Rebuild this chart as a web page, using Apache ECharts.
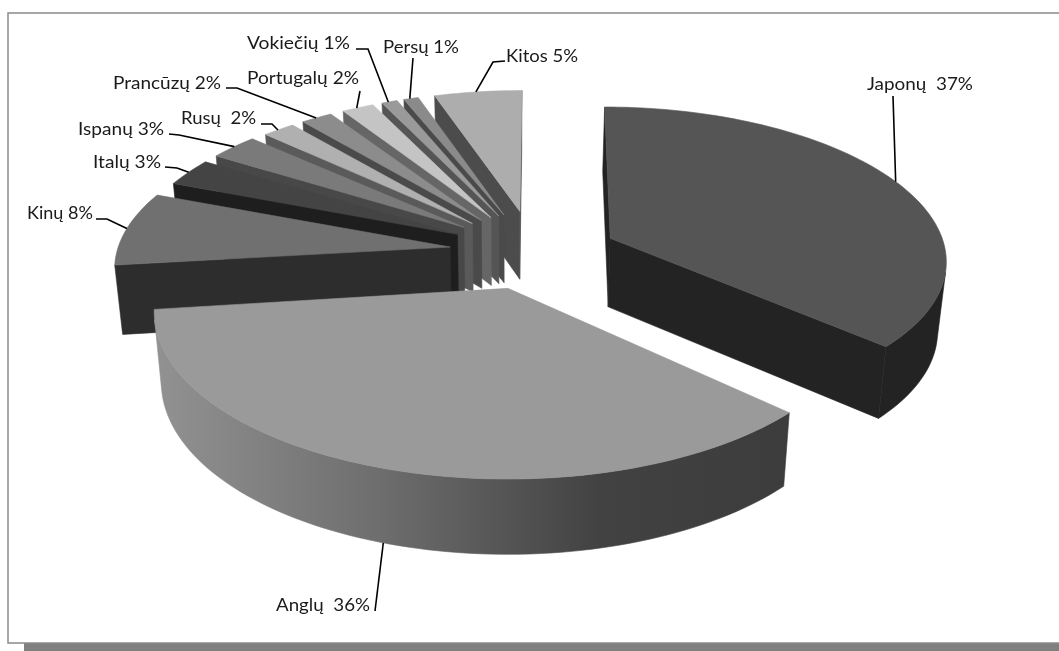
<!DOCTYPE html>
<html>
<head>
<meta charset="utf-8">
<style>html,body{margin:0;padding:0;background:#fff}#c{width:1059px;height:651px}</style>
<script src="https://cdn.jsdelivr.net/npm/echarts@6/dist/echarts.min.js"></script>
</head>
<body>
<div id="c"></div>
<script>
// Kalbų dalys (%)
const languages = ['Japonų','Anglų','Kinų','Italų','Ispanų','Rusų','Prancūzų','Portugalų','Vokiečių','Persų','Kitos'];
const shares = [37,36,8,3,3,2,2,2,1,1,5];
const labelTexts = ['Japonų  37%','Anglų  36%','Kinų 8%','Italų 3%','Ispanų 3%','Rusų  2%','Prancūzų 2%','Portugalų 2%','Vokiečių 1%','Persų 1%','Kitos 5%'];
const topColors = ['#555555','#9a9a9a','#707070','#444444','#7a7a7a','#b0b0b0','#8c8c8c','#c4c4c4','#9a9a9a','#8a8a8a','#adadad'];
const sideColors = ['#232323','#3d3d3d','#2d2d2d','#1e1e1e','#484848','#5a5a5a','#4a4a4a','#666666','#555555','#4a4a4a','#4c4c4c'];

// Camera of the tilted pie: perspective projection onto the page
const cam = {x0:510, y0:288, s:351, a:165, p:0.136, h:70, taper:0.98};
const pieCentre = {X:0.075, Y:-0.207};
const explode = 0.22;

// Per-slice offset of the exploded wedge: rim centre shift, rim radius,
// how far the tip sits along the bisector, and the gap trimmed off each edge (degrees)
const wedgeFit = [
  {dX:0.040,  dY:-0.028, r:0.967, pull:-0.021, trim:[0,0]},
  {dX:-0.013, dY:0,      r:0.998, pull:0,      trim:[0,0]},
  {dX:-0.063, dY:-0.026, r:0.949, pull:-0.03,  trim:[0,0]},
  {dX:0,      dY:-0.015, r:1,     pull:0.04,   trim:[0.2,0.3]},
  {dX:0,      dY:-0.015, r:1,     pull:0.05,   trim:[0.4,0.8]},
  {dX:0,      dY:-0.005, r:1,     pull:0.055,  trim:[0.6,0.2]},
  {dX:0,      dY:-0.005, r:1,     pull:0.055,  trim:[0.6,0.4]},
  {dX:0,      dY:-0.005, r:1,     pull:0.055,  trim:[0.7,0.2]},
  {dX:0,      dY:-0.005, r:1,     pull:0.055,  trim:[0.5,0]},
  {dX:0,      dY:-0.005, r:1,     pull:0.055,  trim:[0.6,0.1]},
  {dX:0,      dY:-0.005, r:1,     pull:0.067,  trim:[0.8,0]}
];

function project(X, Y, low) {
  const w = 1 - cam.p * Y;
  let x = cam.s * X / w;
  let y = cam.y0 + cam.a * Y / w;
  if (low) { x *= cam.taper; y += cam.h / Math.sqrt(w); }
  return [cam.x0 + x, y];
}

const total = shares.reduce((a, b) => a + b, 0);
const spans = [];
shares.reduce((acc, v) => { const next = acc + v / total * 360; spans.push([acc, next]); return next; }, 0);

function bisector(i) {
  const mid = (spans[i][0] + spans[i][1]) / 2 * Math.PI / 180;
  return [Math.sin(mid), -Math.cos(mid)];
}
function rimCentre(i) {
  const d = bisector(i), f = wedgeFit[i];
  return [pieCentre.X + explode * d[0] + f.dX, pieCentre.Y + explode * d[1] + f.dY];
}
function rimPoint(i, deg, low) {
  const c = rimCentre(i), t = deg * Math.PI / 180, r = wedgeFit[i].r;
  return project(c[0] + r * Math.sin(t), c[1] - r * Math.cos(t), low);
}
function shoelace(pts) {
  let sum = 0;
  pts.forEach((p, j) => { const q = pts[(j + 1) % pts.length]; sum += p[0] * q[1] - q[0] * p[1]; });
  return sum;
}

const anglesShade = new echarts.graphic.LinearGradient(155, 0, 790, 0, [
  {offset:0, color:'#929292'}, {offset:0.35, color:'#6e6e6e'},
  {offset:0.7, color:'#424242'}, {offset:1, color:'#3c3c3c'}
], true);

function renderSlice(params, api) {
  const i = api.value(0);
  const f = wedgeFit[i];
  const a0 = spans[i][0] + f.trim[0], a1 = spans[i][1] - f.trim[1];
  const c = rimCentre(i), d = bisector(i);
  const tip = [c[0] + f.pull * d[0], c[1] + f.pull * d[1]];
  const top = [], lower = [];
  for (let a = a0; a < a1; a += 1.5) { top.push(rimPoint(i, a, false)); lower.push(rimPoint(i, a, true)); }
  top.push(rimPoint(i, a1, false)); lower.push(rimPoint(i, a1, true));
  const tipHi = project(tip[0], tip[1], false), tipLo = project(tip[0], tip[1], true);
  const z = (shares.length - i) * 10;
  const poly = (points, fill, dz) => ({
    type:'polygon', z2:z + dz, shape:{points},
    style:{fill, stroke:fill, lineWidth:0.6}
  });
  const flat = sideColors[i];
  const children = [];
  // Radial walls and the outer wall are only drawn where they face the camera
  const startWall = [tipHi, top[0], lower[0], tipLo];
  const endWall = [tipHi, top[top.length - 1], lower[lower.length - 1], tipLo];
  if (shoelace(startWall) < 0) children.push(poly(startWall, flat, 0));
  if (shoelace(endWall) > 0) children.push(poly(endWall, flat, 1));
  let first = -1, last = -1;
  for (let j = 0; j < top.length - 1; j++) {
    if (shoelace([top[j], top[j + 1], lower[j + 1], lower[j]]) < 0) {
      if (first < 0) first = j;
      last = j + 1;
    }
  }
  if (first >= 0) {
    const hi = top.slice(first, last + 1), lo = lower.slice(first, last + 1).reverse();
    children.push(poly(hi.concat(lo), i === 1 ? anglesShade : flat, 2));
  }
  children.push(poly([tipHi].concat(top), topColors[i], 3));
  return {type:'group', children};
}

// Where each caption sits and how its leader bends on the way to the rim
const captions = [
  {x:867,y:84, width:106, elbow:[[893,96]]},
  {x:276,y:605,width:94,  elbow:[[375,611]], low:true, along:0.503},
  {x:27, y:213,width:66,  elbow:[[96,219],[107,219]]},
  {x:93, y:162,width:68,  elbow:[[165,167],[177,168]]},
  {x:78, y:129,width:86,  elbow:[[169,134],[179,135]]},
  {x:181,y:118,width:75,  elbow:[[261,124],[272,124]]},
  {x:113,y:83, width:108, elbow:[[226,88],[237,88]]},
  {x:247,y:78, width:112, elbow:[[360,91]]},
  {x:247,y:43, width:103, elbow:[[356,49],[368,49]]},
  {x:383,y:47, width:76,  elbow:[[413,58]]},
  {x:506,y:56, width:72,  elbow:[[505,61],[493,62]]}
];

const graphics = [
  {type:'rect', z:0, shape:{x:24,y:643,width:1035,height:8}, style:{fill:'#808080'}},
  {type:'rect', z:0, shape:{x:8,y:13,width:1060,height:630}, style:{fill:'#fff',stroke:'#8a8a8a',lineWidth:1.5}}
];
const captionFont = '18px Lato';
const measure = document.createElement('canvas').getContext('2d');
measure.font = captionFont;
captions.forEach((cap, i) => {
  const along = cap.along === undefined ? 0.5 : cap.along;
  const end = rimPoint(i, spans[i][0] + (spans[i][1] - spans[i][0]) * along, !!cap.low);
  graphics.push({type:'polyline', z:5, shape:{points:cap.elbow.concat([end])}, style:{fill:null, stroke:'#000', lineWidth:1.6}});
  // Captions are stretched sideways to the width they take in the layout
  const fit = cap.width / measure.measureText(labelTexts[i]).width;
  graphics.push({type:'text', z:5, x:cap.x, y:cap.y, scaleX:fit, style:{text:labelTexts[i], fill:'#1a1a1a', font:captionFont, textVerticalAlign:'middle'}});
});

const chart = echarts.init(document.getElementById('c'), null, {renderer:'canvas'});
chart.setOption({
  animation:false,
  backgroundColor:'#fff',
  graphic:graphics,
  series:[{
    type:'custom', coordinateSystem:'none', z:3, silent:true,
    renderItem:renderSlice,
    data:languages.map((name, i) => ({name, value:[i, shares[i]]}))
  }]
});
</script>
</body>
</html>
